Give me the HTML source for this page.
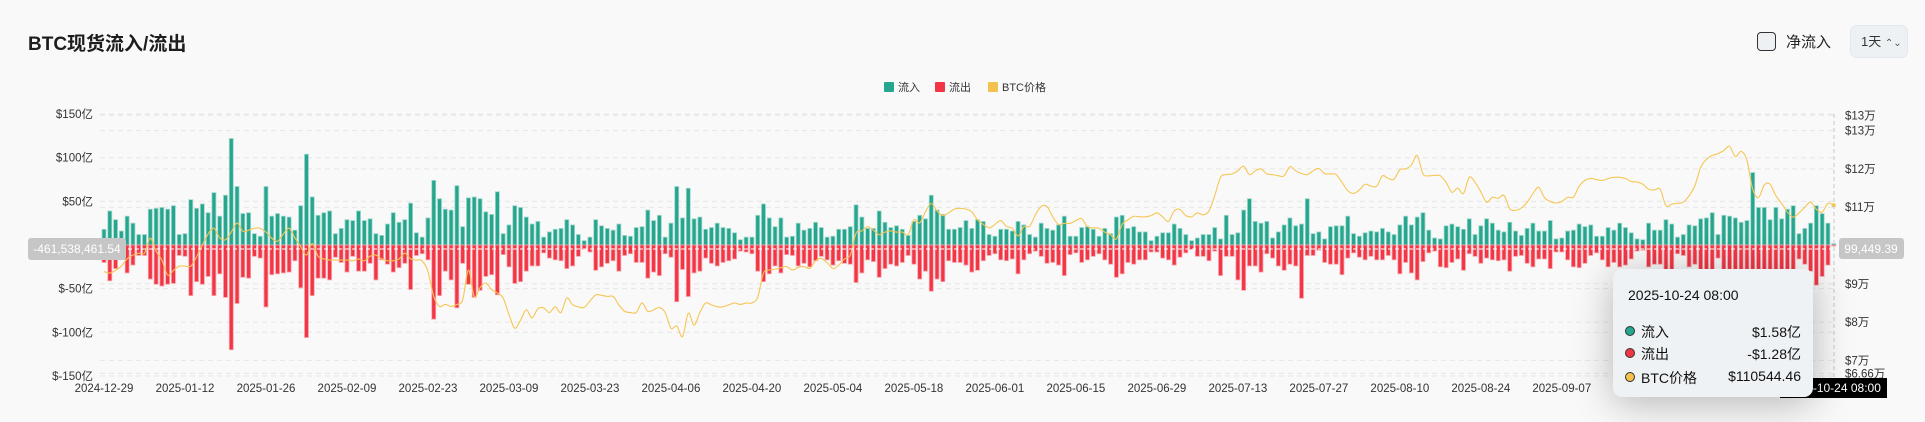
<!DOCTYPE html>
<html><head><meta charset="utf-8">
<style>
html,body{margin:0;padding:0;background:#f9f9f9;}
body{width:1925px;height:422px;position:relative;overflow:hidden;font-family:"Liberation Sans","Noto Sans CJK SC",sans-serif;color:#222;}
.title{position:absolute;left:28px;top:29px;font-size:19px;font-weight:bold;color:#1d1d1f;}
.cb{position:absolute;left:1757px;top:32px;width:17px;height:17px;border:1.5px solid #333;border-radius:4px;background:#eef1f4;}
.cbl{position:absolute;left:1786px;top:31px;font-size:15px;color:#222;}
.sel{position:absolute;left:1851px;top:26px;width:56px;height:31px;background:#eef1f4;border-radius:6px;box-shadow:0 0 0 1px #e4e7eb;font-size:13px;line-height:31px;text-indent:10px;color:#333;}
.tip{position:absolute;left:1613px;top:269px;width:200px;height:128px;background:#eef2f5;border-radius:9px;box-shadow:0 6px 40px rgba(0,0,0,0.28);font-size:14px;color:#111;}
.tip .d{position:absolute;left:15px;top:18px;}
.tip .r{position:absolute;left:12px;width:176px;height:18px;}
.tip .r i{position:absolute;left:0;top:4px;width:8px;height:8px;border-radius:50%;border:1.5px solid #333;}
.tip .r span{position:absolute;left:16px;top:0;}
.tip .r b{position:absolute;right:0;top:0;font-weight:normal;}
.xbox{position:absolute;left:1780px;top:378px;width:107px;height:20px;background:#000;color:#fff;font-size:12px;line-height:20px;text-align:center;}
</style></head>
<body>
<div class="title">BTC现货流入/流出</div>
<div class="cb"></div>
<div class="cbl">净流入</div>
<div class="sel">1天 <span style="font-size:10px;color:#555">⌃⌄</span></div>
<svg id="chart" width="1925" height="422" style="position:absolute;left:0;top:0"></svg>
<div class="xbox">2025-10-24 08:00</div>
<div class="tip">
 <div class="d">2025-10-24 08:00</div>
 <div class="r" style="top:53px"><i style="background:#26a68e"></i><span>流入</span><b>$1.58亿</b></div>
 <div class="r" style="top:75px"><i style="background:#f23645"></i><span>流出</span><b>-$1.28亿</b></div>
 <div class="r" style="top:99px"><i style="background:#f2c14e"></i><span>BTC价格</span><b>$110544.46</b></div>
</div>
<script>
const inflow=[18,39,29,16,33,25,12,12,41,42,43,41,45,12,13,52,42,47,37,60,33,57,122,67,36,37,13,10,67,33,36,33,32,17,45,104,55,34,37,39,13,19,29,28,39,28,30,13,11,24,37,26,29,48,14,9,31,74,53,41,
40,68,21,54,55,53,38,35,61,13,23,45,43,32,24,27,9,15,18,19,29,23,12,5,9,29,22,19,17,24,11,10,20,21,40,28,34,9,25,67,31,65,30,32,18,20,25,20,19,14,6,9,9,34,47,31,21,31,9,
10,25,17,19,26,20,9,10,18,18,21,46,32,19,19,39,26,20,22,18,11,27,34,30,57,40,35,18,18,20,28,19,29,27,12,10,18,18,16,27,23,12,9,25,19,17,23,33,10,10,20,21,18,10,19,13,32,34,19,
21,15,15,5,10,14,14,24,19,12,5,8,12,12,20,7,34,12,14,40,53,27,25,27,8,15,23,31,22,24,53,13,15,7,21,22,22,33,13,10,14,16,15,19,15,12,23,33,23,32,37,17,8,7,22,24,21,18,30,
12,22,30,25,17,15,26,16,11,19,25,16,16,28,7,8,16,17,24,21,23,10,10,20,17,25,20,14,7,6,25,17,17,29,24,9,12,23,22,30,31,37,12,34,33,31,26,28,83,43,43,29,43,30,41,45,13,19,25,45,36,25,1.58];
const outflow=[20,41,27,14,32,23,12,12,39,45,47,45,44,12,13,58,42,45,36,58,33,60,120,67,37,38,13,15,71,34,33,32,31,18,49,106,58,38,38,40,14,20,31,13,30,30,21,40,17,22,31,26,21,51,12,10,17,85,58,30,
40,72,21,45,60,52,36,34,57,11,25,44,42,30,24,24,9,15,17,18,27,24,13,5,8,29,25,21,18,30,12,10,20,20,38,31,35,10,14,65,28,59,32,30,15,21,24,20,18,16,7,8,10,30,42,33,24,32,11,
12,24,21,25,18,13,17,23,18,21,22,43,32,17,19,37,27,22,24,20,12,22,39,30,53,39,42,18,20,20,23,31,29,18,12,10,17,18,16,33,17,10,7,13,21,20,23,35,11,9,20,17,13,10,17,22,37,33,20,
22,17,17,8,8,15,17,23,14,9,5,13,13,18,7,35,13,13,40,52,24,24,31,10,15,24,29,22,24,61,12,12,6,20,22,22,34,15,9,14,17,13,17,17,12,17,33,20,32,40,19,9,7,25,26,20,16,29,10,
13,21,15,17,18,17,30,13,12,21,25,16,16,27,8,8,17,25,26,21,12,9,17,25,20,25,23,16,7,6,25,22,22,30,28,10,12,25,22,32,34,38,15,33,30,30,28,30,40,32,30,28,36,30,34,36,16,22,30,46,36,23,1.28];
const price=[93.2,92.8,93.5,94.6,96.5,97.5,98,98,101.9,98.5,96.2,92.3,93.5,94.6,94.6,94.6,97,100.1,103,104.5,102,101.5,103.5,105.9,103.7,104,104.5,104.5,103.5,101.9,101.1,103,104.5,102,99.7,97.5,100.5,97.2,96.5,96.2,96.2,96.2,96.2,96,96.5,96,97.2,97.5,96.5,96,96,96.5,98,96.5,96.2,96,93.2,86.7,84.1,
84.6,84.1,84.6,85.8,93.6,86.7,89,90.2,88.5,87.6,86.3,82,78.4,80.5,83.2,81.1,83.5,83.7,82.5,84,82.5,86.3,84.5,84,83.8,85.5,87.1,87,86.7,86.7,84.5,82.8,82.5,82.5,85,82.8,83.2,83.8,82.5,78.4,79,76.2,82.3,79.2,82.5,85,84.5,84,84,84.5,85,84.6,85,85,86.5,92.8,93.6,93.8,94.2,94.5,
93.6,94.3,94.5,94,96,96.6,95.5,94,94.8,96.5,97.5,103.2,103.8,104.9,104,102.8,103.5,103.8,103.5,103.5,102.8,106.7,105.9,108.8,111,109,107.8,108.5,109.5,109.7,109.5,108.8,106.7,105.5,104.6,105.5,106.5,105,104.5,102.5,104.9,105,108,110.2,110.2,107.5,105.5,105.8,105.8,106.5,107,104.9,104.6,104.5,103.5,102.8,101.7,105.5,106.7,
107.6,107.5,107.5,107.8,108.5,107.5,106.3,109,109.4,107.8,107.5,108.5,108,109,113,117.8,118.5,118.7,119.5,120.7,118.5,119.5,120,118.7,118.5,118.2,118.2,120.6,119.5,118.8,118.5,119.5,120.1,118.8,118.7,118.5,116.5,114.3,113.6,114.5,116,115.5,115.5,118.2,117.5,117.3,119.8,120,121,123.5,118.7,118.2,118.3,118.2,116.5,113.9,115,113.6,117.8,
116.5,114,111.3,112.6,112.3,113.1,109.6,109.2,109.8,111.3,113.5,115.2,112.5,111.5,111.1,111.5,112.6,112.6,115.5,117,117.5,117.2,117,117.5,117.8,117.8,117.5,116.7,116.6,116,114.7,114.5,114.7,110.4,110.8,111,111.3,113,115.6,120.4,122.5,123.5,124,124.8,125.9,123.2,124.6,122.2,114.7,112.5,115.8,116,113,111,108.7,107.4,108.5,110,111.3,109.5,108.7,111,110.5];
const xLabels=["2024-12-29","2025-01-12","2025-01-26","2025-02-09","2025-02-23","2025-03-09","2025-03-23","2025-04-06","2025-04-20","2025-05-04","2025-05-18","2025-06-01","2025-06-15","2025-06-29","2025-07-13","2025-07-27","2025-08-10","2025-08-24","2025-09-07","2025-09-21","2025-10-05"];
const leftTicks=[150,100,50,0,-50,-100,-150];
const rightTicks=[134,130,120,110,90,80,70,66.6];
const rightTickLabels=["$13万","$13万","$12万","$11万","$9万","$8万","$7万","$6.66万"];

const NS="http://www.w3.org/2000/svg";
const svg=document.getElementById('chart');
const X0=104, DX=5.785, L=100, R=1834;
const xAt=i=>X0+i*DX;
const yFlow=v=>245-v*0.873;
const yPrice=p=>245.5-(p-100)*3.83;
function mk(tag,attrs,parent){const e=document.createElementNS(NS,tag);for(const k in attrs)e.setAttribute(k,attrs[k]);(parent||svg).appendChild(e);return e;}

// gridlines
const gridG=mk('g',{});


leftTicks.forEach(t=>{ if(t!==0) mk('line',{x1:L,x2:R,y1:yFlow(t),y2:yFlow(t),stroke:'#e6e6e6','stroke-dasharray':'5,4'},gridG);});
rightTicks.forEach(t=>{ mk('line',{x1:L,x2:R,y1:yPrice(t),y2:yPrice(t),stroke:'#e6e6e6','stroke-dasharray':'5,4'},gridG);});

// left axis labels
leftTicks.forEach(t=>{
 const tx=mk('text',{x:93,y:yFlow(t)+4,'text-anchor':'end','font-size':11.5,fill:'#333'});
 
 
 tx.textContent=t<0?('$-'+(-t)+'亿'):('$'+t+'亿');
});
// right axis labels
rightTicks.forEach((t,i)=>{
 const tx=mk('text',{x:1845,y:yPrice(t)+4,'font-size':11.5,fill:'#333'});
 
 
 tx.textContent=rightTickLabels[i];
});
// x labels
xLabels.forEach((s,i)=>{
 const tx=mk('text',{x:xAt(i*14),y:392,'text-anchor':'middle','font-size':11.5,fill:'#333'});
 
 
 tx.textContent=s;
});

// bars
const barG=mk('g',{});


inflow.forEach((v,i)=>{
 const x=xAt(i)-2, y=yFlow(v);
 const r=mk('rect',{x:x,y:y,width:4,height:245-y,fill:'#26a68e',stroke:'#9fd8cc','stroke-width':0.8},barG);
 
 
});
outflow.forEach((v,i)=>{
 const x=xAt(i)-2, y=yFlow(-v);
 const r=mk('rect',{x:x,y:245,width:4,height:y-245,fill:'#f23645',stroke:'#f7a6ad','stroke-width':0.8},barG);
 
 
});

// price line (smooth)
const pts=price.map((p,i)=>[xAt(i),yPrice(p)]);
let d='M'+pts[0][0]+','+pts[0][1];
for(let i=0;i<pts.length-1;i++){
 const p0=pts[Math.max(0,i-1)],p1=pts[i],p2=pts[i+1],p3=pts[Math.min(pts.length-1,i+2)];
 const c1=[p1[0]+(p2[0]-p0[0])/6,p1[1]+(p2[1]-p0[1])/6];
 const c2=[p2[0]-(p3[0]-p1[0])/6,p2[1]-(p3[1]-p1[1])/6];
 d+=' C'+c1[0].toFixed(2)+','+c1[1].toFixed(2)+' '+c2[0].toFixed(2)+','+c2[1].toFixed(2)+' '+p2[0].toFixed(2)+','+p2[1].toFixed(2);
}
const line=mk('path',{d:d,fill:'none',stroke:'#f6c653','stroke-width':1.1});


const lp=pts[pts.length-1];
const dot=mk('circle',{cx:lp[0],cy:lp[1],r:2.2,fill:'#f6c653'});



// crosshair
const ch=mk('line',{x1:L,x2:R,y1:249,y2:249,stroke:'#ffffff','stroke-width':1,'stroke-dasharray':'4,3'});


const cv=mk('line',{x1:R,x2:R,y1:114,y2:380,stroke:'#c8c8c8','stroke-dasharray':'4,3'});


const lb=mk('rect',{x:28,y:238,width:98,height:22,rx:3,fill:'#c6c6c6'});


const lt=mk('text',{x:77,y:253,'text-anchor':'middle','font-size':12,fill:'#fff'});
lt.textContent='-461,538,461.54';
const rb=mk('rect',{x:1839,y:238,width:65,height:21,rx:3,fill:'#c6c6c6'});


const rt=mk('text',{x:1871,y:253,'text-anchor':'middle','font-size':12,fill:'#fff'});
rt.textContent='99,449.39';

// legend
const legend=[['流入','#26a68e',884],['流出','#f23645',935],['BTC价格','#f2c14e',988]];
legend.forEach(l=>{
 const g=mk('g',{});
 
 
 mk('rect',{x:l[2],y:82,width:10,height:10,fill:l[1],rx:1},g);
 const t=mk('text',{x:l[2]+14,y:91,'font-size':11,fill:'#333'},g);
 t.textContent=l[0];
});
</script>
</body></html>
